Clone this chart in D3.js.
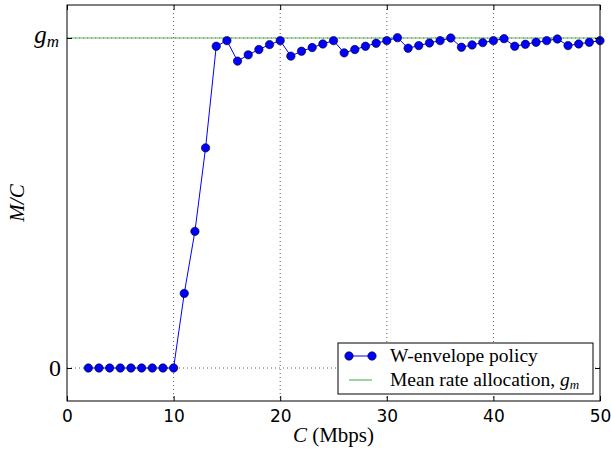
<!DOCTYPE html>
<html>
<head>
<meta charset="utf-8">
<script src="https://cdn.jsdelivr.net/npm/d3@7"></script>
<style>
  body { margin: 0; background: #fff; }
  .tick text { font-family: "DejaVu Sans", sans-serif; }
  .math { font-family: "Liberation Serif", "DejaVu Serif", serif; }
</style>
</head>
<body>
<svg width="611" height="451"></svg>
<script>
// link capacity C (Mbps)
var capacity = d3.range(2, 51);
// normalised M/C, gm = 1
var ratio = [0, 0, 0, 0, 0, 0, 0, 0, 0,
    0.226, 0.414, 0.667, 0.975, 0.992, 0.930, 0.949, 0.965, 0.980, 0.992,
    0.945, 0.960, 0.971, 0.982, 0.992, 0.955, 0.965, 0.975, 0.984, 0.992,
    1.001, 0.969, 0.977, 0.985, 0.992, 1.000, 0.972, 0.979, 0.986, 0.992,
    0.998, 0.975, 0.981, 0.987, 0.992, 0.997, 0.977, 0.982, 0.987, 0.992];
var gm = 1;
var xTicks = [0, 10, 20, 30, 40, 50];
var yTicks = [0, gm];

var svg = d3.select('svg');
var plot = {l: 67, r: 600, t: 5, b: 401};

var x = d3.scaleLinear().domain([0, 50]).range([plot.l, plot.r]);
var y = d3.scaleLinear().domain([-0.1, 1.1]).range([plot.b, plot.t]);

var data = capacity.map(function(c, i) { return {c: c, v: ratio[i]}; });

// dotted grid
svg.append('g').selectAll('line.vgrid')
    .data(xTicks.slice(1, -1))
    .enter().append('line')
    .attr('x1', function(d) { return x(d); })
    .attr('x2', function(d) { return x(d); })
    .attr('y1', plot.t).attr('y2', plot.b)
    .attr('stroke', '#333').attr('stroke-width', 0.8)
    .attr('stroke-dasharray', '1,3');

svg.append('g').selectAll('line.hgrid')
    .data(yTicks)
    .enter().append('line')
    .attr('y1', function(d) { return y(d); })
    .attr('y2', function(d) { return y(d); })
    .attr('x1', plot.l).attr('x2', plot.r)
    .attr('stroke', '#333').attr('stroke-width', 0.8)
    .attr('stroke-dasharray', '1,3');

// mean rate allocation
svg.append('line')
    .attr('x1', plot.l).attr('x2', plot.r)
    .attr('y1', y(gm)).attr('y2', y(gm))
    .attr('stroke', '#5cb85c').attr('stroke-width', 1.2);

// W-envelope line + markers
var line = d3.line()
    .x(function(d) { return x(d.c); })
    .y(function(d) { return y(d.v); });

svg.append('path')
    .datum(data)
    .attr('d', line)
    .attr('fill', 'none')
    .attr('stroke', '#0000ff')
    .attr('stroke-width', 1);

svg.append('g').selectAll('circle')
    .data(data)
    .enter().append('circle')
    .attr('cx', function(d) { return x(d.c); })
    .attr('cy', function(d) { return y(d.v); })
    .attr('r', 4.2)
    .attr('fill', '#0000ff')
    .attr('stroke', '#000')
    .attr('stroke-width', 0.6);

// axes (ticks point inward)
var xAxis = d3.axisBottom(x).tickValues(xTicks).tickSizeInner(-5).tickSizeOuter(0).tickPadding(9);
svg.append('g')
    .attr('transform', 'translate(0,' + plot.b + ')')
    .call(xAxis)
    .call(function(g) {
        g.select('.domain').remove();
        g.selectAll('.tick line').attr('stroke', '#000');
        g.selectAll('.tick text').attr('font-size', 17).attr('fill', '#000');
    });

svg.append('g')
    .attr('transform', 'translate(0,' + plot.t + ')')
    .call(d3.axisTop(x).tickValues(xTicks).tickSizeInner(-5).tickSizeOuter(0).tickFormat(''))
    .call(function(g) { g.select('.domain').remove(); g.selectAll('.tick line').attr('stroke', '#000'); });

svg.append('g')
    .attr('transform', 'translate(' + plot.l + ',0)')
    .call(d3.axisLeft(y).tickValues(yTicks).tickSizeInner(-5).tickSizeOuter(0).tickFormat(''))
    .call(function(g) { g.select('.domain').remove(); g.selectAll('.tick line').attr('stroke', '#000'); });

svg.append('g')
    .attr('transform', 'translate(' + plot.r + ',0)')
    .call(d3.axisRight(y).tickValues(yTicks).tickSizeInner(-5).tickSizeOuter(0).tickFormat(''))
    .call(function(g) { g.select('.domain').remove(); g.selectAll('.tick line').attr('stroke', '#000'); });

// y tick labels (math style)
svg.append('text').attr('class', 'math')
    .attr('x', plot.l - 6).attr('y', y(0) + 8)
    .attr('text-anchor', 'end').attr('font-size', 24)
    .text('0');

var gmLab = svg.append('text').attr('class', 'math')
    .attr('x', plot.l - 8).attr('y', y(gm) + 5)
    .attr('text-anchor', 'end').attr('font-size', 25).attr('font-style', 'italic');
gmLab.append('tspan').text('g');
gmLab.append('tspan').attr('font-size', 17).attr('dy', 4).text('m');

// frame
svg.append('rect')
    .attr('x', plot.l).attr('y', plot.t)
    .attr('width', plot.r - plot.l).attr('height', plot.b - plot.t)
    .attr('fill', 'none').attr('stroke', '#000').attr('stroke-width', 1);

// axis labels
var xl = svg.append('text').attr('class', 'math')
    .attr('x', (plot.l + plot.r) / 2).attr('y', 442)
    .attr('text-anchor', 'middle').attr('font-size', 21);
xl.append('tspan').attr('font-style', 'italic').text('C');
xl.append('tspan').text(' (Mbps)');

svg.append('text').attr('class', 'math')
    .attr('transform', 'translate(24,' + ((plot.t + plot.b) / 2) + ') rotate(-90)')
    .attr('text-anchor', 'middle').attr('font-size', 21).attr('font-style', 'italic')
    .text('M/C');

// legend
var legend = svg.append('g').attr('transform', 'translate(338,343)');
legend.append('rect')
    .attr('width', 255).attr('height', 51)
    .attr('fill', '#fff').attr('stroke', '#000').attr('stroke-width', 1);

legend.append('line')
    .attr('x1', 11).attr('x2', 34).attr('y1', 13).attr('y2', 13)
    .attr('stroke', '#0000ff').attr('stroke-width', 1);
legend.selectAll('circle.leg')
    .data([11, 34])
    .enter().append('circle')
    .attr('cx', function(d) { return d; }).attr('cy', 13).attr('r', 4.2)
    .attr('fill', '#0000ff').attr('stroke', '#000').attr('stroke-width', 0.6);
legend.append('text').attr('class', 'math')
    .attr('x', 52).attr('y', 19).attr('font-size', 19.5)
    .text('W-envelope policy');

legend.append('line')
    .attr('x1', 11).attr('x2', 34).attr('y1', 37).attr('y2', 37)
    .attr('stroke', '#5cb85c').attr('stroke-width', 1.2);
var l2 = legend.append('text').attr('class', 'math')
    .attr('x', 52).attr('y', 43).attr('font-size', 19.5);
l2.append('tspan').text('Mean rate allocation, ');
l2.append('tspan').attr('font-style', 'italic').text('g');
l2.append('tspan').attr('font-style', 'italic').attr('font-size', 13).attr('dy', 3).text('m');
</script>
</body>
</html>
